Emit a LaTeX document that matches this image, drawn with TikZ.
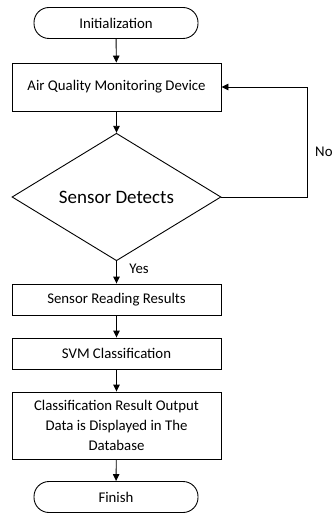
\documentclass[tikz,border=0pt]{standalone}
\usepackage{fontspec}
\setmainfont{Carlito}
\usetikzlibrary{shapes.geometric,arrows.meta}
\begin{document}
\begin{tikzpicture}[x=1pt,y=-1pt,
  every node/.style={font=\fontsize{14.8}{20}\selectfont, inner sep=0pt, line width=0.9pt},
  term/.style={draw, rounded corners=15pt, minimum width=164pt, minimum height=31pt},
  proc/.style={draw, minimum width=209pt, align=center},
  dec/.style={draw, diamond, minimum width=209pt, minimum height=123pt, font=\fontsize{19}{22}\selectfont},
  arr/.style={line width=0.9pt, -{Triangle[length=7pt,width=6.5pt]}},
  lbl/.style={anchor=west}]
\useasboundingbox (0,0) rectangle (334,513);
\node[term] (init) at (116,23) {Initialization};
\node[proc, minimum height=48pt] (aqmd) at (116.5,87) {Air Quality Monitoring Device};
\node[dec] (det) at (116.5,197) {Sensor Detects};
\node[proc, minimum height=31pt] (sens) at (116.5,299.5) {Sensor Reading Results};
\node[proc, minimum height=31pt] (svm) at (116.5,353.5) {SVM Classification};
\node[proc, minimum height=67pt] (cls) at (116.5,425.5) {Classification Result Output\\Data is Displayed in The\\Database};
\node[term] (fin) at (116,497) {Finish};
\coordinate (r2) at (307,87);
\draw[arr] (init) -- (aqmd);
\draw[arr] (aqmd) -- (det);
\draw[arr] (det) -- (sens);
\draw[arr] (sens) -- (svm);
\draw[arr] (svm) -- (cls);
\draw[arr] (cls) -- (fin);
\draw[arr] (det.east) -| (r2) -- (aqmd.east);
\node[anchor=east] (no) at (333,152) {No};
\node[lbl] (yes) at (129,269) {Yes};
\end{tikzpicture}
\end{document}
